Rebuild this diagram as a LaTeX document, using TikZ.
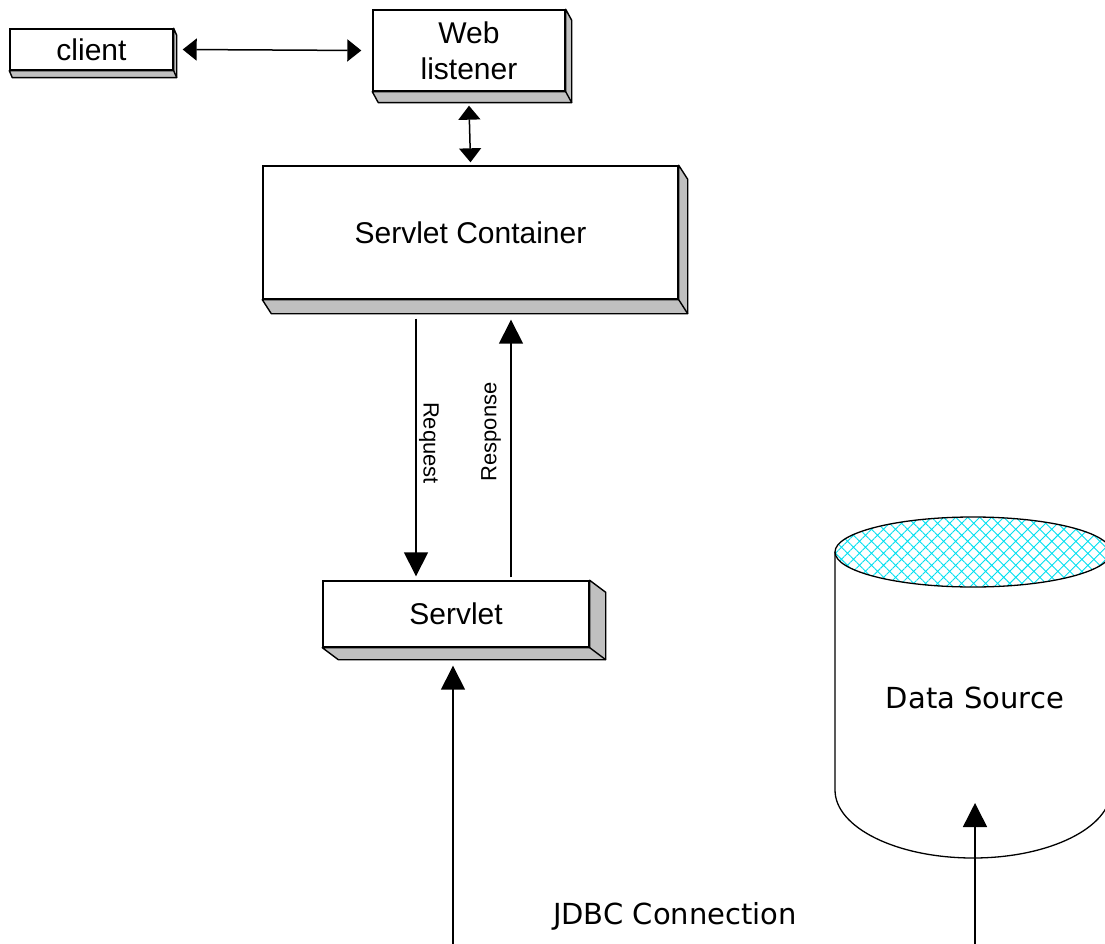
\documentclass[tikz,border=0pt]{standalone}
\usepackage{fontspec}
\setmainfont{Liberation Sans}
\newfontfamily\dejavu{DejaVu Sans}
\usetikzlibrary{arrows.meta,patterns.meta}
\definecolor{shadowgray}{HTML}{C0C0C0}
\definecolor{hatchcyan}{HTML}{00E0F0}
\tikzset{
  boxnode/.style={draw=black, line width=1.4pt, fill=white, inner sep=0pt,
    font=\fontsize{30}{36}\selectfont, align=center},
  shadowpart/.style={fill=shadowgray, draw=black, line width=1.4pt, line join=round},
  smallarr/.style={line width=1.5pt, {Triangle[length=14pt,width=22pt]}-{Triangle[length=14pt,width=22pt]}},
  bigarr/.style={line width=1.5pt, -{Triangle[length=24pt,width=24pt]}},
  sidelabel/.style={font=\fontsize{22}{26}\selectfont, inner sep=0pt},
  dslabel/.style={font=\dejavu\fontsize{29}{34}\selectfont, inner sep=0pt},
  cyl/.style={draw=black, line width=1.3pt}
}
\newcommand\boxextrude[3]{%
  \filldraw[shadowpart] (#1.south west) -- ([xshift=#2pt,yshift=-#3pt]#1.south west)
    -- ([xshift=#2pt,yshift=-#3pt]#1.south east) -- ([xshift=#2pt,yshift=-#3pt]#1.north east)
    -- (#1.north east) -- (#1.south east) -- cycle;
  \draw[line width=1.4pt] (#1.south east) -- ([xshift=#2pt,yshift=-#3pt]#1.south east);}
\begin{document}
\begin{tikzpicture}[x=1pt,y=-1pt]
\useasboundingbox (0,0) rectangle (1105,944);
\clip (0,0) rectangle (1105,944);
\fill[white] (0,0) rectangle (1105,944);

% boxes
\node[boxnode, minimum width=163pt, minimum height=41pt] (client) at (91.5,49.5) {client};
\boxextrude{client}{3}{7}
\node[boxnode, minimum width=192pt, minimum height=81pt] (web) at (469,50.5) {Web\\listener};
\boxextrude{web}{6}{11}
\node[boxnode, minimum width=415pt, minimum height=133pt] (cont) at (470.5,232.5) {Servlet Container};
\boxextrude{cont}{9}{14}
\node[boxnode, minimum width=266pt, minimum height=66pt] (servlet) at (456,614) {Servlet};
\boxextrude{servlet}{16}{12}

% data source cylinder
\fill[white] (835,552) -- (835,790) .. controls (835,827.6) and (896.8,858) .. (973,858)
  .. controls (1049.2,858) and (1111,827.6) .. (1111,790) -- (1111,552) -- cycle;
\draw[cyl] (835,552) -- (835,790) .. controls (835,827.6) and (896.8,858) .. (973,858)
  .. controls (1049.2,858) and (1111,827.6) .. (1111,790) -- (1111,552);
\fill[white] (973,552) ellipse [x radius=138, y radius=35];
\fill[pattern={Hatch[distance=8.5pt,angle=45,line width=0.9pt]}, pattern color=hatchcyan]
  (973,552) ellipse [x radius=138, y radius=35];
\draw[cyl] (973,552) ellipse [x radius=138, y radius=35];
\node[dslabel] (ds) at (975,698) {Data Source};

% free ends
\coordinate (botservlet) at (453,944);
\coordinate (botds) at (975,944);

% connectors
\draw[smallarr] ([xshift=9pt]client.east) -- ([xshift=-11pt]web.west);
\draw[smallarr] ([yshift=-14pt]web.south) -- ([yshift=3pt]cont.north);
\draw[bigarr] ([xshift=-54.5pt,yshift=-19pt]cont.south) -- ([xshift=-40pt,yshift=4pt]servlet.north);
\draw[bigarr] ([xshift=55pt,yshift=3pt]servlet.north) -- ([xshift=40.5pt,yshift=-20pt]cont.south);
\node[sidelabel, rotate=-90] (reqlab) at (429,443) {Request};
\node[sidelabel, rotate=90] (resplab) at (491,432) {Response};
\draw[bigarr] (botservlet) -- ([xshift=-3pt,yshift=-18pt]servlet.south);
\draw[bigarr] (botds) -- ([yshift=-105pt]ds.center);

\node[dslabel] (jdbc) at (675,916) {JDBC Connection};
\end{tikzpicture}
\end{document}
